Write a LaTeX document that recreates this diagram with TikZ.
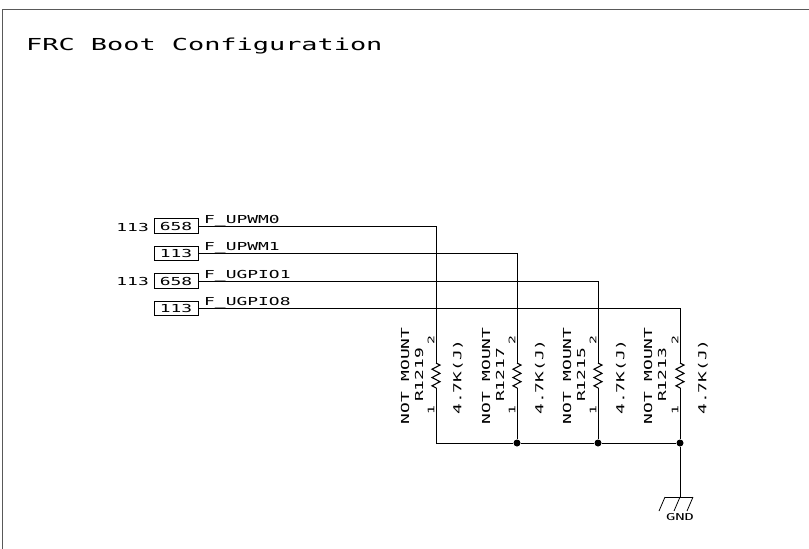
\documentclass[tikz,border=0pt]{standalone}
\usepackage{fontspec}
\usetikzlibrary{decorations.pathmorphing}
\newfontfamily\schfont[FakeStretch=1.63]{DejaVu Sans Mono}
\tikzset{
  wire/.style={line width=0.8pt},
  lbl/.style={inner sep=0pt, font=\schfont\fontsize{11}{11}\selectfont},
  vlbl/.style={lbl, rotate=90},
  pinnum/.style={inner sep=0pt, rotate=90, font=\schfont\fontsize{9}{9}\selectfont},
  port/.style={draw, line width=0.9pt, minimum width=44pt, minimum height=14.5pt, inner sep=0pt, text depth=-3pt, font=\schfont\fontsize{11}{11}\selectfont},
  dot/.style={circle, fill=black, inner sep=0pt, minimum size=7pt},
  reszig/.style={line width=1.1pt, decorate, decoration={zigzag, segment length=8.3pt, amplitude=4pt}}
}
\begin{document}
\begin{tikzpicture}[x=1pt, y=-1pt]
  \useasboundingbox (0, 0) rectangle (809, 549);
  \draw[wire, gray!70!black] (2, 549) -- (2, 9) -- (809, 9);
  \node[lbl, anchor=base west, font=\schfont\fontsize{16.5}{16.5}\selectfont] (title) at (26, 50) {FRC Boot Configuration};
  % off-page ports
  \node[port] (p1) at (176, 226) {658};
  \node[port] (p2) at (176, 253.5) {113};
  \node[port] (p3) at (176, 281) {658};
  \node[port] (p4) at (176, 308.5) {113};
  \node[lbl, anchor=base east] (s1) at (149, 231) {113};
  \node[lbl, anchor=base east] (s3) at (149, 285.5) {113};
  \node[lbl, anchor=base west] (n1) at (204, 223) {F\_UPWM0};
  \node[lbl, anchor=base west] (n2) at (204, 250) {F\_UPWM1};
  \node[lbl, anchor=base west] (n3) at (204, 278) {F\_UGPIO1};
  \node[lbl, anchor=base west] (n4) at (204, 305) {F\_UGPIO8};
  % resistor ends
  \coordinate (r1a) at (436, 363);
  \coordinate (r1b) at (436, 388);
  \coordinate (r2a) at (517, 363);
  \coordinate (r2b) at (517, 388);
  \coordinate (r3a) at (598, 363);
  \coordinate (r3b) at (598, 388);
  \coordinate (r4a) at (680, 363);
  \coordinate (r4b) at (680, 388);
  \coordinate (c1) at (436, 443);
  \node[dot] (j2) at (517, 443) {};
  \node[dot] (j3) at (598, 443) {};
  \node[dot] (j4) at (680, 443) {};
  \coordinate (g) at (680, 497);
  % nets
  \draw[wire] (p1.east) -| (r1a);
  \draw[wire] (p2.east) -| (r2a);
  \draw[wire] (p3.east) -| (r3a);
  \draw[wire] (p4.east) -| (r4a);
  \draw[reszig] (r1a) -- (r1b);
  \draw[reszig] (r2a) -- (r2b);
  \draw[reszig] (r3a) -- (r3b);
  \draw[reszig] (r4a) -- (r4b);
  \draw[wire] (r1b) -- (c1) -- (j2) -- (j3) -- (j4);
  \draw[wire] (r2b) -- (j2);
  \draw[wire] (r3b) -- (j3);
  \draw[wire] (r4b) -- (j4) -- (g);
  % ground
  \draw[wire] (665, 497) -- (693, 497);
  \draw[wire] (665, 497) -- (659, 511);
  \draw[wire] (g) -- (674, 511);
  \draw[wire] (693, 497) -- (687, 511);
  \node[inner sep=0pt, font=\schfont\fontsize{9.5}{9.5}\selectfont] (gnd) at (680, 517) {GND};
  % resistor texts
  \node[vlbl] (m1) at (405, 376) {NOT MOUNT};
  \node[vlbl] (m2) at (486, 376) {NOT MOUNT};
  \node[vlbl] (m3) at (567, 376) {NOT MOUNT};
  \node[vlbl] (m4) at (648, 376) {NOT MOUNT};
  \node[vlbl] (r1) at (419, 375) {R1219};
  \node[vlbl] (r2) at (500, 375) {R1217};
  \node[vlbl] (r3) at (581, 375) {R1215};
  \node[vlbl] (r4) at (662, 375) {R1213};
  \node[vlbl] (v1) at (458, 377) {4.7K(J)};
  \node[vlbl] (v2) at (540, 377) {4.7K(J)};
  \node[vlbl] (v3) at (621, 377) {4.7K(J)};
  \node[vlbl] (v4) at (703, 377) {4.7K(J)};
  \node[pinnum] (a1) at (431, 340) {2};
  \node[pinnum] (a2) at (512, 340) {2};
  \node[pinnum] (a3) at (593, 340) {2};
  \node[pinnum] (a4) at (675, 340) {2};
  \node[pinnum] (b1) at (431, 410) {1};
  \node[pinnum] (b2) at (512, 410) {1};
  \node[pinnum] (b3) at (593, 410) {1};
  \node[pinnum] (b4) at (675, 410) {1};
\end{tikzpicture}
\end{document}
